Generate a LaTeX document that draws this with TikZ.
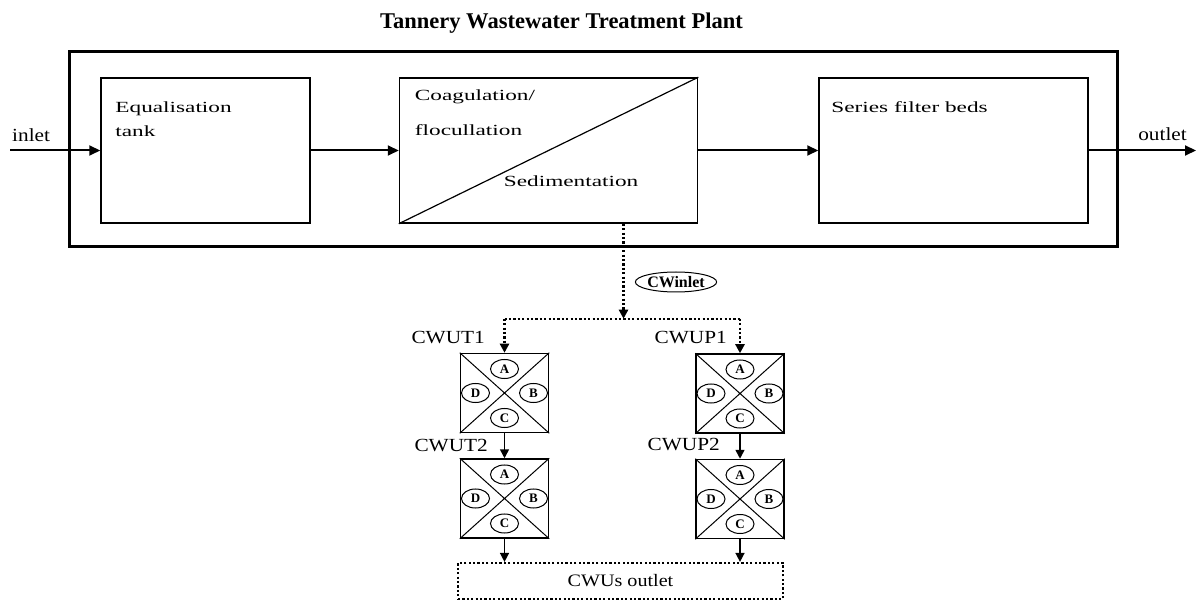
\documentclass[tikz,border=0pt]{standalone}
\usepackage{fontspec}
\setmainfont{Liberation Serif}
\newfontfamily\widefont[FakeStretch=1.5]{Liberation Serif}
\newfontfamily\tagfont[FakeStretch=1.15]{Liberation Serif}
\usetikzlibrary{arrows.meta,positioning,shapes.geometric}

\begin{document}
\begin{tikzpicture}[
  x=1pt,y=-1pt,
  stage/.style={draw,line width=1.5pt,minimum height=145pt,inner sep=0pt},
  txt/.style={font=\widefont\fontsize{15.5}{24}\selectfont,align=left,
              inner sep=0pt},
  tag/.style={font=\tagfont\fontsize{18.5}{20}\selectfont,inner sep=0pt},
  cw/.style={draw,line width=1.5pt,minimum width=88pt,minimum height=79pt,
             inner sep=0pt},
  cell/.style={draw,ellipse,fill=white,line width=1pt,minimum width=28pt,
               minimum height=19pt,inner sep=0pt,
               font=\bfseries\fontsize{13}{13}\selectfont},
  flow/.style={line width=2pt,-{Triangle[length=11pt,width=10pt]}},
  feed/.style={line width=1.5pt,-{Triangle[length=9pt,width=9pt]}},
  dots/.style={line width=2.2pt,dash pattern=on 2.2pt off 2.2pt}
]
\useasboundingbox (0,0) rectangle (1197,601);
\node[font=\bfseries\fontsize{22.5}{24}\selectfont,anchor=base] (title)
  at (561.5,29) {Tannery Wastewater Treatment Plant};
\node[draw,line width=3pt,minimum width=1048pt,minimum height=195pt]
  (plant) at (593,149.5) {};

\node[stage,minimum width=209pt] (eq) at (205.5,150.5) {};
\node[stage,minimum width=298pt,right=88pt of eq] (coag) {};
\node[stage,minimum width=269pt,right=120pt of coag] (beds) {};
\draw[line width=1.2pt] (coag.south west) -- (coag.north east);

\node[txt,below right=24pt and 15pt of eq.north west] (eqtxt)
  {Equalisation\\tank};
\node[txt,font=\widefont\fontsize{15.5}{35}\selectfont,
      below right=12pt and 16pt of coag.north west] (coagtxt)
  {Coagulation/\\flocullation};
\node[txt,above right=37pt and 105pt of coag.south west] (sedtxt)
  {Sedimentation};
\node[txt,below right=24pt and 13pt of beds.north west] (bedstxt)
  {Series filter beds};

\coordinate (in) at (10,150.5);
\coordinate (out) at (1196,150.5);
\node[tag,above right=9pt and 2pt of in] (inlbl) {inlet};
\node[tag,above left=10pt and 9pt of out] (outlbl) {outlet};
\draw[flow] (in) -- (eq);
\draw[flow] (eq) -- (coag);
\draw[flow] (coag) -- (beds);
\draw[flow] (beds) -- (out);

\node[draw,ellipse,line width=1pt,minimum width=78pt,minimum height=20pt,
      inner sep=0pt,font=\bfseries\fontsize{16}{16}\selectfont]
  (cwin) at (676,282) {CWinlet};

\node[cw] (t1) at (504.5,393) {};
\node[cw,below=25pt of t1] (t2) {};
\node[cw] (p1) at (740,393.5) {};
\node[cw,below=25pt of p1] (p2) {};
\foreach \u in {t1,t2,p1,p2}{
  \draw[line width=1pt] (\u.north west) -- (\u.south east)
                        (\u.north east) -- (\u.south west);
  \node[cell] (\u a) at ([yshift=24pt]\u.center) {A};
  \node[cell] (\u b) at ([xshift=29pt]\u.center) {B};
  \node[cell] (\u c) at ([yshift=-25pt]\u.center) {C};
  \node[cell] (\u d) at ([xshift=-29pt]\u.center) {D};
}
\node[tag,above left=9pt and 19.5pt of t1.north] (t1lbl) {CWUT1};
\node[tag,above left=9pt and 13pt of p1.north] (p1lbl) {CWUP1};
\node[tag,above left=6.5pt and 16.5pt of t2.north] (t2lbl) {CWUT2};
\node[tag,above left=8pt and 20pt of p2.north] (p2lbl) {CWUP2};

\coordinate (drop) at ([xshift=75pt]coag.south);
\coordinate (split) at ([yshift=-95pt]drop);
\draw[dots,-{Triangle[length=9pt,width=9pt]}] (drop) -- (split);
\draw[dots] (t1.north |- split) -- (p1.north |- split);
\draw[dots,-{Triangle[length=9pt,width=9pt]}] (t1.north |- split) -- (t1);
\draw[dots,-{Triangle[length=9pt,width=9pt]}] (p1.north |- split) -- (p1);

\node[draw,dots,minimum width=325pt,minimum height=36pt,inner sep=0pt,
      font=\tagfont\fontsize{17.5}{20}\selectfont]
  (cwout) at (620.5,581) {CWUs outlet};
\draw[feed] (t1) -- (t2);
\draw[feed] (p1) -- (p2);
\draw[feed] (t2) -- (t2 |- cwout.north);
\draw[feed] (p2) -- (p2 |- cwout.north);
\end{tikzpicture}
\end{document}
